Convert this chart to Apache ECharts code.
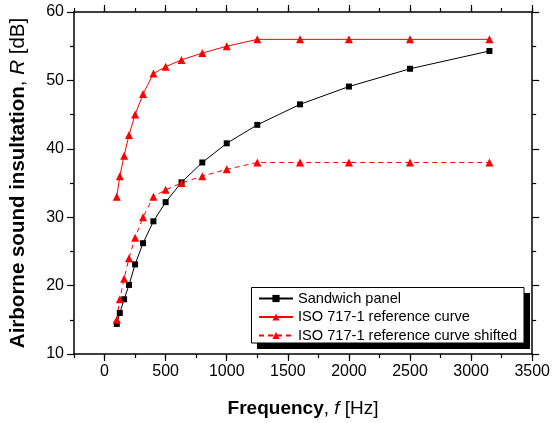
<!DOCTYPE html>
<html>
<head>
<meta charset="utf-8">
<script src="https://cdn.jsdelivr.net/npm/echarts@6/dist/echarts.min.js"></script>
<style>
  html, body { margin: 0; padding: 0; background: #fff; }
  #chart { width: 553px; height: 423px; }
</style>
</head>
<body>
<div id="chart"></div>
<script>
// frequencies (Hz), one-third octave bands
const freqs = [100, 125, 160, 200, 250, 315, 400, 500, 630, 800, 1000, 1250, 1600, 2000, 2500, 3150];
// measured sandwich panel
const sandwich = [14.4, 16.0, 18.0, 20.1, 23.1, 26.2, 29.4, 32.2, 35.1, 38.0, 40.8, 43.5, 46.5, 49.1, 51.7, 54.3];
// ISO 717-1 reference curve
const isoRef = [33, 36, 39, 42, 45, 48, 51, 52, 53, 54, 55, 56, 56, 56, 56, 56];
// shifted reference curve
const isoShifted = [15, 18, 21, 24, 27, 30, 33, 34, 35, 36, 37, 38, 38, 38, 38, 38];
const xTicks = [0, 500, 1000, 1500, 2000, 2500, 3000, 3500];
const seriesNames = ['Sandwich panel', 'ISO 717-1 reference curve', 'ISO 717-1 reference curve shifted'];

const font = 'Liberation Sans, Arial, sans-serif';
const pair = arr => freqs.map((f, i) => [f, arr[i]]);

const myChart = echarts.init(document.getElementById('chart'));

const tickStyle = { color: '#000', width: 1.2 };
const axisBase = {
  type: 'value',
  axisLine: { show: true, onZero: false, lineStyle: { color: '#000', width: 1.5 } },
  splitLine: { show: false }
};
const richName = size => ({
  color: '#000', fontFamily: font, fontSize: size,
  rich: {
    b: { fontWeight: 'bold', fontFamily: font, fontSize: size, color: '#000' },
    i: { fontStyle: 'italic', fontFamily: font, fontSize: size, color: '#000' }
  }
});

// x axes: major ticks via customValues, minor ticks via a second axis at 250 step
const xMajor = (pos, labels) => Object.assign({}, axisBase, {
  position: pos, min: -250, max: 3500, interval: 250,
  axisTick: { show: true, length: 7, customValues: xTicks, lineStyle: tickStyle },
  axisLabel: labels
    ? { show: true, color: '#000', fontFamily: font, fontSize: 16, margin: 10,
        customValues: xTicks, formatter: v => String(v) }
    : { show: false }
});
const xMinor = pos => Object.assign({}, axisBase, {
  position: pos, min: -250, max: 3500, interval: 250,
  axisLine: { show: false, onZero: false },
  axisTick: { show: true, length: 4, lineStyle: tickStyle },
  axisLabel: { show: false }
});

const yAxisCommon = pos => Object.assign({}, axisBase, {
  position: pos, min: 10, max: 60, interval: 10,
  axisTick: { show: true, length: 7, lineStyle: tickStyle },
  minorTick: { show: true, splitNumber: 2, length: 4, lineStyle: tickStyle }
});

const xBottom = xMajor('bottom', true);
xBottom.name = '{b|Frequency}, {i|f} [Hz]';
xBottom.nameLocation = 'middle';
xBottom.nameGap = 45;
xBottom.nameTextStyle = richName(19);

const yLeft = yAxisCommon('left');
yLeft.axisLabel = { color: '#000', fontFamily: font, fontSize: 16, margin: 10 };
yLeft.name = '{b|Airborne sound insultation}, {i|R} [dB]';
yLeft.nameLocation = 'middle';
yLeft.nameGap = 45;
yLeft.nameTextStyle = richName(20.5);

const yRight = yAxisCommon('right');
yRight.axisLabel = { show: false };

const option = {
  animation: false,
  backgroundColor: '#fff',
  grid: { left: 69, right: 20, top: 12, bottom: 69 },
  xAxis: [xBottom, xMajor('top', false), xMinor('bottom'), xMinor('top')],
  yAxis: [yLeft, yRight],
  graphic: [
    { type: 'rect', z: 10, shape: { x: 257, y: 293, width: 273, height: 56 }, style: { fill: '#000' } },
    { type: 'rect', z: 11, shape: { x: 251.5, y: 287.5, width: 272.5, height: 55.5 }, style: { fill: '#fff', stroke: '#000', lineWidth: 1 } }
  ],
  legend: {
    z: 20,
    orient: 'vertical',
    left: 258,
    top: 291,
    itemWidth: 34,
    itemHeight: 9,
    itemGap: 3.5,
    padding: 0,
    textStyle: { color: '#000', fontFamily: font, fontSize: 14.6 },
    data: seriesNames
  },
  series: [
    {
      name: seriesNames[0], type: 'line', data: pair(sandwich),
      symbol: 'rect', symbolSize: 6,
      lineStyle: { color: '#000', width: 1 },
      itemStyle: { color: '#000' }
    },
    {
      name: seriesNames[1], type: 'line', data: pair(isoRef),
      symbol: 'triangle', symbolSize: 8,
      lineStyle: { color: '#f00', width: 1 },
      itemStyle: { color: '#f00' }
    },
    {
      name: seriesNames[2], type: 'line', data: pair(isoShifted),
      symbol: 'triangle', symbolSize: 8,
      lineStyle: { color: '#f00', width: 1, type: [5, 4] },
      itemStyle: { color: '#f00' }
    }
  ]
};

myChart.setOption(option);
</script>
</body>
</html>
